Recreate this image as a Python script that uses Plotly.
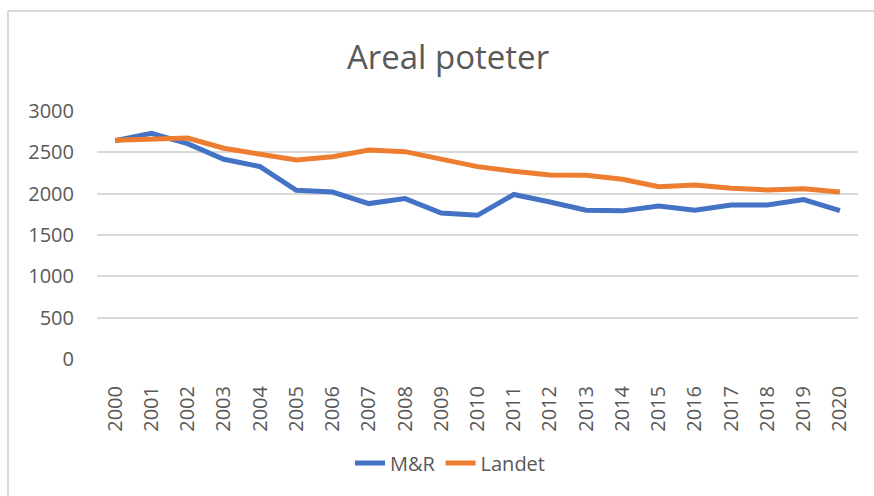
import plotly.graph_objects as go

years = [str(y) for y in range(2000, 2021)]
mr = [2640, 2730, 2605, 2416, 2327, 2040, 2020, 1880, 1940, 1765, 1738,
      1990, 1900, 1800, 1792, 1851, 1800, 1862, 1862, 1928, 1794]
landet = [2645, 2662, 2672, 2549, 2480, 2407, 2447, 2528, 2508, 2416, 2327,
          2272, 2226, 2223, 2174, 2085, 2105, 2065, 2044, 2058, 2020]
y_ticks = [0, 500, 1000, 1500, 2000, 2500, 3000]

FONT = "Open Sans"
TXT = "#595959"
GRID = "#D9D9D9"

fig = go.Figure()
fig.add_trace(go.Scatter(x=years, y=mr, mode="lines", name="M&R",
                         line=dict(color="#4472C4", width=5)))
fig.add_trace(go.Scatter(x=years, y=landet, mode="lines", name="Landet",
                         line=dict(color="#ED7D31", width=5)))

W, H = 874, 496
L, T = 97, 111
R = W - 858
B = H - 359
pw, ph = W - L - R, H - T - B

def px_x(x):
    return (x - L) / pw

def px_y(y):
    return (H - B - y) / ph

border = dict(color=GRID, width=2)

fig.update_layout(
    width=W, height=H,
    margin=dict(l=L, r=R, t=T, b=B, autoexpand=False),
    paper_bgcolor="white", plot_bgcolor="white",
    font=dict(family=FONT, color=TXT, size=20),
    title=dict(text="Areal poteter", x=448 / W, xanchor="center",
               y=1 - 57 / H, yanchor="middle", yref="container",
               font=dict(family=FONT, size=33, color=TXT)),
    showlegend=True,
    legend=dict(orientation="h", x=px_x(450), xanchor="center",
                y=px_y(463), yanchor="middle",
                font=dict(family=FONT, size=20, color=TXT),
                itemwidth=30, tracegroupgap=0),
    xaxis=dict(type="category", categoryorder="array", categoryarray=years,
               range=[-0.5, len(years) - 0.5], showgrid=False,
               tickangle=-90, ticks="outside", ticklen=18,
               tickcolor="rgba(0,0,0,0)", showline=False, zeroline=False,
               tickfont=dict(family=FONT, size=20, color=TXT)),
    yaxis=dict(range=[0, 3000], tickvals=y_ticks,
               ticktext=[str(v) for v in y_ticks],
               showgrid=True, gridcolor=GRID, gridwidth=1.5,
               zeroline=False, showline=False,
               ticks="outside", ticklen=18, tickcolor="rgba(0,0,0,0)",
               tickfont=dict(family=FONT, size=20, color=TXT)),
    shapes=[
        dict(type="line", xref="paper", yref="paper",
             x0=px_x(8), x1=px_x(8), y0=px_y(11), y1=px_y(600),
             line=border, layer="below"),
        dict(type="line", xref="paper", yref="paper",
             x0=px_x(8), x1=px_x(1000), y0=px_y(11), y1=px_y(11),
             line=border, layer="below"),
    ],
)

fig.write_html(
    "out.html",
    config={"displayModeBar": False},
    post_script="document.body.style.margin='0';"
                "document.body.style.overflow='hidden';",
)
